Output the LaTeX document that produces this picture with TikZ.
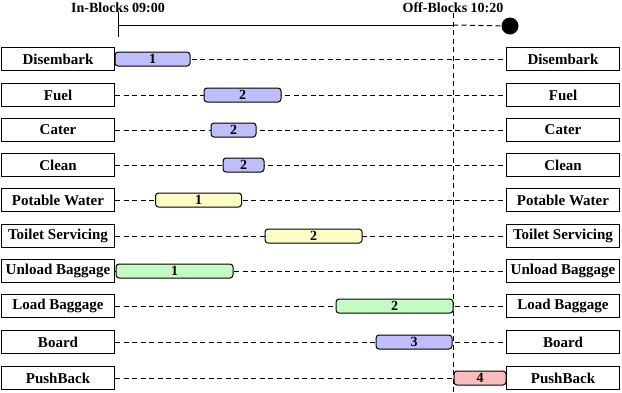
\documentclass[tikz,border=0pt]{standalone}
\usepackage{fontspec}
\setmainfont{Liberation Serif}
\begin{document}
\begin{tikzpicture}[x=1pt,y=-1pt,
  task/.style={draw,line width=1pt,fill=white,minimum width=113pt,minimum height=23pt,inner sep=0pt,font=\bfseries\fontsize{15}{15}\selectfont},
  bar/.style={draw,line width=1pt,rounded corners=3pt,minimum height=14pt,inner sep=0pt,font=\bfseries\fontsize{14}{14}\selectfont},
  dline/.style={line width=1pt,dash pattern=on 5pt off 3.5pt},
  bluebar/.style={bar,fill={rgb,255:red,190;green,190;blue,250}},
  yelbar/.style={bar,fill={rgb,255:red,252;green,252;blue,196}},
  grnbar/.style={bar,fill={rgb,255:red,196;green,250;blue,196}},
  redbar/.style={bar,fill={rgb,255:red,250;green,188;blue,188}}]
\useasboundingbox (0,0) rectangle (622,392);
% timeline
\node[font=\bfseries\fontsize{14}{14}\selectfont] (inlab) at (118,8) {In-Blocks 09:00};
\node[font=\bfseries\fontsize{14}{14}\selectfont] (offlab) at (453,8) {Off-Blocks 10:20};
\coordinate (inT) at (118,12);
\coordinate (inB) at (118,37);
\coordinate (inM) at (118,25);
\coordinate (offT) at (453,13);
\coordinate (offM) at (453,25);
\coordinate (offB) at (453,392);
\node[circle,fill=black,minimum size=17pt,inner sep=0pt] (end) at (510,26) {};
\draw[line width=1pt] (inT) -- (inB);
\draw[line width=1pt] (inM) -- (offM);
\draw[dline] (offT) -- (offB);
\draw[dline] (offM) -- (end);
% rows
\foreach \n/\t/\y in {r1/Disembark/59, r2/Fuel/95, r3/Cater/130, r4/Clean/165, r5/Potable Water/200, r6/Toilet Servicing/236, r7/Unload Baggage/271, r8/Load Baggage/306, r9/Board/342, r10/PushBack/378}{
  \node[task] (L\n) at (58,\y) {\t};
  \node[task] (R\n) at (563,\y) {\t};
  \draw[dline] (L\n.east) -- (R\n.west);
}
% bars
\node[bluebar,minimum width=75pt] (b1) at (152.5,59) {1};
\node[bluebar,minimum width=77pt] (b2) at (242.5,95) {2};
\node[bluebar,minimum width=45pt] (b3) at (233.5,130) {2};
\node[bluebar,minimum width=41pt] (b4) at (243.5,165) {2};
\node[yelbar,minimum width=86pt] (b5) at (198.5,200) {1};
\node[yelbar,minimum width=97pt] (b6) at (313.5,236) {2};
\node[grnbar,minimum width=117pt] (b7) at (174.5,271) {1};
\node[grnbar,minimum width=117pt] (b8) at (394.5,306) {2};
\node[bluebar,minimum width=76pt] (b9) at (414,342) {3};
\node[redbar,minimum width=52pt] (b10) at (480,378) {4};
\end{tikzpicture}
\end{document}
